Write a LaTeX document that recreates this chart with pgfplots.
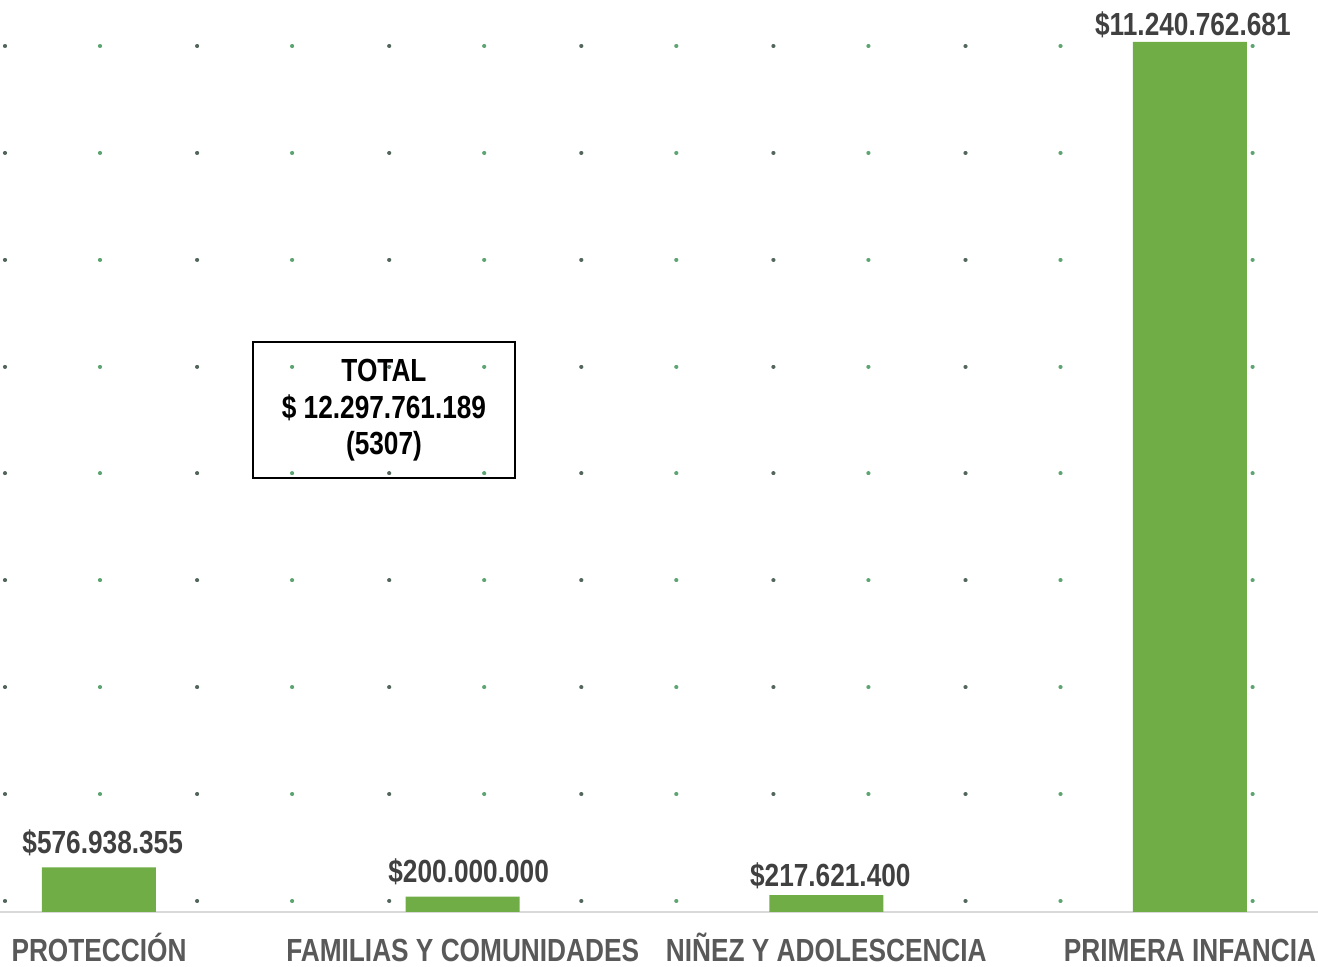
\documentclass[border=0pt]{standalone}
\usepackage{pgfplots}
\pgfplotsset{compat=1.18}
\usepackage{fontspec}
\setmainfont{Liberation Sans}[FakeStretch=0.82]
\definecolor{barcolor}{HTML}{70AD47}
\definecolor{dotdark}{HTML}{52665C}
\definecolor{dotgreen}{HTML}{5CA570}
\definecolor{ticktext}{HTML}{595959}
\definecolor{labeltext}{HTML}{404040}
\definecolor{axisgray}{HTML}{D9D9D9}
\begin{document}
\begin{tikzpicture}
\begin{axis}[
  at={(0,0)}, anchor=south west,
  scale only axis,
  width=659pt, height=456pt,
  xmin=-0.2722, xmax=3.352,
  ymin=0, ymax=11.783e9,
  axis x line*=bottom,
  axis y line*=left,
  y axis line style={draw=none},
  x axis line style={draw=axisgray, line width=1pt},
  xtick={0,1,2,3},
  xticklabels={PROTECCIÓN, FAMILIAS Y COMUNIDADES, NIÑEZ Y ADOLESCENCIA, PRIMERA INFANCIA},
  xticklabel style={anchor=base, yshift=-25pt, font=\fontsize{16}{19}\selectfont\bfseries, text=ticktext},
  major tick length=0pt,
  ytick={0.1421e9,1.5233e9,2.9039e9,4.2844e9,5.6656e9,7.0468e9,8.4273e9,9.8079e9,11.189e9},
  yticklabels={},
  ymajorgrids=true,
  major grid style={draw=dotdark, line width=2pt, line cap=round, dash pattern=on 0.1pt off 95.95pt, dash phase=93.6pt},
  extra y ticks={0.1421e9,1.5233e9,2.9039e9,4.2844e9,5.6656e9,7.0468e9,8.4273e9,9.8079e9,11.189e9},
  extra y tick labels={},
  extra y tick style={major grid style={draw=dotgreen, line width=2pt, line cap=round, dash pattern=on 0.1pt off 95.95pt, dash phase=46.1pt}},
  clip=false,
]
\addplot[ybar, bar width=57pt, fill=barcolor, draw=none] coordinates {
  (0,576938355) (1,200000000) (2,217621400) (3,11240762681)
};
\begin{scope}[every node/.style={anchor=base, inner sep=0pt, font=\fontsize{16}{19}\selectfont\bfseries, text=labeltext}]
\node at (axis cs:0.0102,0.7494e9) {\$576.938.355};
\node at (axis cs:1.0165,0.3747e9) {\$200.000.000};
\node at (axis cs:2.011,0.3230e9) {\$217.621.400};
\node at (axis cs:3.008,11.318e9) {\$11.240.762.681};
\end{scope}
\node[draw=black, line width=0.8pt, minimum width=130.8pt, minimum height=68pt, align=center, inner sep=0pt,
  font=\fontsize{16}{18.3}\selectfont\bfseries, text=black] at (axis cs:0.7837,6.482e9)
  {TOTAL\\\$ 12.297.761.189\\(5307)};
\end{axis}
\pgfresetboundingbox
\path[use as bounding box] (0,-27.5pt) rectangle (659pt,456pt);
\end{tikzpicture}
\end{document}
